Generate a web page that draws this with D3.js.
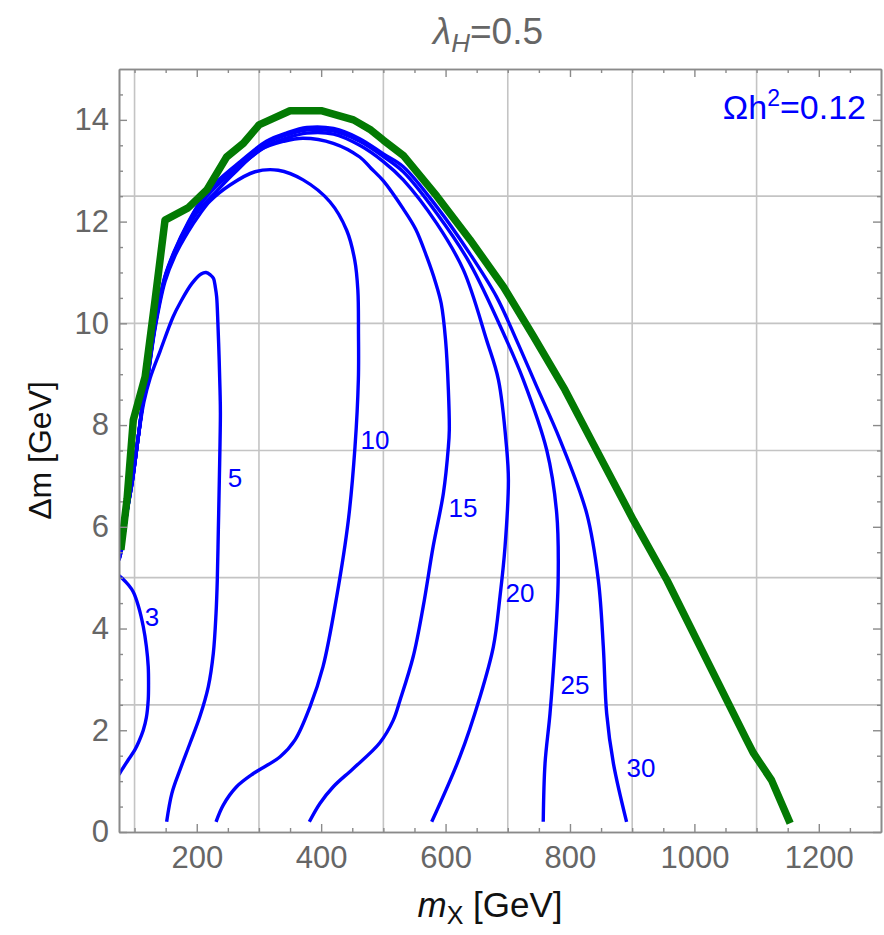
<!DOCTYPE html>
<html>
<head>
<meta charset="utf-8">
<script src="https://cdn.jsdelivr.net/npm/d3@7/dist/d3.min.js"></script>
<style>
html,body{margin:0;padding:0;background:#fff;}
svg{display:block;}
text{font-family:"Liberation Sans",Arial,sans-serif;}
</style>
</head>
<body>
<div id="chart"></div>
<script>
// ---------------- data ----------------
const xDomain = [75, 1300];
const yDomain = [0, 15];
const xTickLabels = [200, 400, 600, 800, 1000, 1200];
const yTickLabels = [0, 2, 4, 6, 8, 10, 12, 14];
const xMinorTicks = d3.range(100, 1300, 50);
const yMinorTicks = d3.range(0.5, 15, 0.5);
const xGridLines = [100, 300, 500, 700, 900, 1100];
const yGridLines = [2.5, 5, 7.5, 10, 12.5];

// relic density boundary (green)
const greenCurve = [[78,5.55],[88,6.55],[98,8.1],[117,8.95],[133,10.46],[149,12.03],[186,12.27],[216,12.62],[248,13.27],[275,13.54],[300,13.9],[323,14.03],[350,14.18],[400,14.18],[452,14.0],[480,13.8],[500,13.6],[532,13.3],[586,12.5],[639,11.65],[693,10.72],[741,9.75],[792,8.69],[837,7.64],[902,6.13],[956,4.95],[1020,3.38],[1084,1.81],[1095,1.55],[1124,1.02],[1154,0.17]];

// contour lines (blue)
const contour3 = [[75,5.04],[80,4.99],[90,4.86],[98,4.72],[106,4.45],[114,4.04],[119,3.65],[122,3.25],[122.5,2.9],[122,2.6],[119,2.25],[114,2.0],[107,1.78],[100.7,1.62],[90,1.42],[80,1.23],[75,1.13]];
const contour5 = [[75,5.4],[80,5.65],[88,6.35],[96,6.9],[107,7.85],[115,8.45],[125,8.92],[141,9.45],[162,10.13],[174,10.42],[192,10.78],[207,10.97],[215,11.0],[222,10.95],[227,10.88],[230,10.7],[232,10.52],[234,10.0],[236,9.3],[237.4,8.69],[238,8.23],[236.3,6.92],[234.7,5.94],[233,4.95],[231,4.3],[226.6,3.51],[218.6,2.86],[205,2.27],[189,1.74],[173,1.22],[160,0.76],[151.6,0.2]];
const contour10 = [[75,5.38],[80,5.62],[88,6.32],[96,6.88],[107,7.86],[114,8.48],[122,9.0],[133,9.9],[149,10.82],[165,11.33],[186,11.8],[205,12.15],[221,12.4],[253.5,12.72],[293.6,12.98],[331,13.01],[371,12.82],[414,12.39],[441,11.83],[454,11.24],[459,10.65],[460,9.8],[459.8,8.89],[454.4,7.57],[443.7,6.13],[425,4.63],[403,3.25],[382,2.46],[358,1.81],[334,1.48],[291,1.15],[264,0.89],[242.6,0.53],[231,0.2]];
const contour15 = [[75,5.37],[80,5.61],[88,6.31],[96,6.87],[107,7.86],[114,8.49],[122,9.02],[133,9.94],[149,10.88],[165,11.4],[186,11.9],[205,12.25],[232,12.6],[260,12.95],[302,13.41],[340,13.58],[371,13.64],[419.5,13.54],[462,13.27],[480,13.05],[500,12.8],[532,12.25],[552,11.85],[570,11.3],[584,10.8],[593,10.39],[600,9.67],[604.5,8.69],[606,7.9],[604.5,7.57],[596.5,6.66],[580,5.61],[564,4.43],[548,3.45],[526.8,2.59],[516,2.2],[494,1.75],[451.7,1.25],[419.5,0.89],[398,0.56],[381,0.2]];
const contour20 = [[75,5.36],[80,5.6],[88,6.3],[96,6.86],[107,7.86],[114,8.5],[122,9.03],[133,9.96],[149,10.9],[165,11.42],[186,11.94],[205,12.33],[232,12.7],[270,13.1],[312,13.48],[344,13.64],[377,13.74],[420,13.72],[462,13.5],[500,13.18],[532,12.82],[586,11.96],[628.6,11.05],[666,9.67],[685,8.89],[698,7.57],[701,6.92],[695.6,5.61],[687.5,4.63],[676.8,3.64],[655.4,2.66],[623,1.48],[577.7,0.2]];
const contour25 = [[75,5.35],[80,5.6],[88,6.3],[96,6.86],[107,7.86],[114,8.51],[122,9.04],[133,9.97],[149,10.91],[165,11.43],[186,11.96],[205,12.36],[232,12.75],[270,13.15],[312,13.54],[344,13.7],[377,13.8],[420,13.78],[462,13.58],[500,13.28],[532,12.98],[586,12.16],[639,11.18],[698,9.67],[725,8.89],[762.6,7.51],[778.7,6.26],[781,4.95],[775.7,3.64],[767.9,2.33],[759.9,1.35],[757,0.2]];
const contour30 = [[75,5.34],[80,5.6],[88,6.3],[96,6.86],[107,7.87],[114,8.52],[122,9.05],[133,9.99],[149,10.93],[165,11.45],[186,11.98],[205,12.38],[232,12.78],[270,13.18],[312,13.58],[344,13.74],[377,13.85],[420,13.83],[462,13.63],[500,13.33],[532,13.08],[586,12.29],[639,11.37],[682,10.52],[714,9.67],[745,8.8],[784,7.71],[827,6.26],[845.6,4.95],[853.6,3.64],[859,2.33],[869.8,1.35],[891,0.2]];

const contourLevels = ["3", "5", "10", "15", "20", "25", "30"];
const contourLabelX = [128, 261.5, 486.6, 628, 719.7, 808, 914];
const contourLabelY = [4.23, 6.96, 7.70, 6.37, 4.69, 2.89, 1.26];
const contours = [contour3, contour5, contour10, contour15, contour20, contour25, contour30];

// ---------------- drawing ----------------
const W = 884, H = 935;
const margin = {left: 119, right: 3, top: 69, bottom: 103};
const svg = d3.select("#chart").append("svg").attr("width", W).attr("height", H);

const x = d3.scaleLinear().domain(xDomain).range([margin.left, W - margin.right]);
const y = d3.scaleLinear().domain(yDomain).range([H - margin.bottom, margin.top]);

const gridColor = "#c4c4c4";
const frameColor = "#8a8a8a";
const labelGray = "#666666";

// grid
svg.append("g").selectAll("line").data(xGridLines).join("line")
  .attr("x1", d => x(d)).attr("x2", d => x(d))
  .attr("y1", y(15)).attr("y2", y(0))
  .attr("stroke", gridColor).attr("stroke-width", 1.6);
svg.append("g").selectAll("line").data(yGridLines).join("line")
  .attr("y1", d => y(d)).attr("y2", d => y(d))
  .attr("x1", x(xDomain[0])).attr("x2", x(xDomain[1]))
  .attr("stroke", gridColor).attr("stroke-width", 1.6);

// clip
svg.append("clipPath").attr("id", "clip").append("rect")
  .attr("x", x(xDomain[0])).attr("y", y(15))
  .attr("width", x(xDomain[1]) - x(xDomain[0])).attr("height", y(0) - y(15));

const plot = svg.append("g").attr("clip-path", "url(#clip)");

const lineSmooth = d3.line().x(d => x(d[0])).y(d => y(d[1])).curve(d3.curveCatmullRom.alpha(0.5));
const lineStraight = d3.line().x(d => x(d[0])).y(d => y(d[1]));

contours.forEach(c => {
  plot.append("path").attr("d", lineSmooth(c))
    .attr("fill", "none").attr("stroke", "#0000ff").attr("stroke-width", 3.4)
    .attr("stroke-linejoin", "round");
});

plot.append("path").attr("d", lineStraight(greenCurve))
  .attr("fill", "none").attr("stroke", "#037a03").attr("stroke-width", 7.5)
  .attr("stroke-linejoin", "round");

// contour labels
svg.append("g").selectAll("text").data(contourLevels).join("text")
  .attr("x", (d, i) => x(contourLabelX[i]))
  .attr("y", (d, i) => y(contourLabelY[i]))
  .attr("text-anchor", "middle").attr("dominant-baseline", "central")
  .attr("font-size", 26).attr("fill", "#0000ff")
  .text(d => d);

// frame axes with inward ticks
function styleAxis(g) {
  g.selectAll(".domain").attr("stroke", frameColor).attr("stroke-width", 1.6);
  g.selectAll(".tick line").attr("stroke", frameColor).attr("stroke-width", 1.4);
  g.selectAll(".tick text").attr("fill", labelGray).attr("font-size", 31)
    .attr("font-family", "'Liberation Sans', Arial, sans-serif");
}
const bottomY = y(0), topY = y(15), leftX = x(xDomain[0]), rightX = x(xDomain[1]);

// bottom
svg.append("g").attr("transform", `translate(0,${bottomY})`)
  .call(d3.axisBottom(x).tickValues(xMinorTicks.filter(v => v % 200 !== 0)).tickFormat("").tickSize(-4).tickSizeOuter(0))
  .call(styleAxis);
svg.append("g").attr("transform", `translate(0,${bottomY})`)
  .call(d3.axisBottom(x).tickValues(xTickLabels).tickFormat(d3.format("d")).tickSize(-8).tickSizeOuter(0).tickPadding(14))
  .call(styleAxis);
// top
svg.append("g").attr("transform", `translate(0,${topY})`)
  .call(d3.axisTop(x).tickValues(xMinorTicks.filter(v => v % 200 !== 0)).tickFormat("").tickSize(-4).tickSizeOuter(0))
  .call(styleAxis);
svg.append("g").attr("transform", `translate(0,${topY})`)
  .call(d3.axisTop(x).tickValues(xTickLabels).tickFormat("").tickSize(-8).tickSizeOuter(0))
  .call(styleAxis);
// left
svg.append("g").attr("transform", `translate(${leftX},0)`)
  .call(d3.axisLeft(y).tickValues(yMinorTicks.filter(v => v % 2 !== 0)).tickFormat("").tickSize(-4).tickSizeOuter(0))
  .call(styleAxis);
svg.append("g").attr("transform", `translate(${leftX},0)`)
  .call(d3.axisLeft(y).tickValues(yTickLabels).tickFormat(d3.format("d")).tickSize(-8).tickSizeOuter(0).tickPadding(10))
  .call(styleAxis);
// right
svg.append("g").attr("transform", `translate(${rightX},0)`)
  .call(d3.axisRight(y).tickValues(yMinorTicks.filter(v => v % 2 !== 0)).tickFormat("").tickSize(-4).tickSizeOuter(0))
  .call(styleAxis);
svg.append("g").attr("transform", `translate(${rightX},0)`)
  .call(d3.axisRight(y).tickValues(yTickLabels).tickFormat("").tickSize(-8).tickSizeOuter(0))
  .call(styleAxis);

// title
const title = svg.append("text").attr("x", 488).attr("y", 44)
  .attr("text-anchor", "middle").attr("font-size", 37).attr("fill", labelGray);
title.append("tspan").attr("font-style", "italic").text("λ");
title.append("tspan").attr("font-style", "italic").attr("font-size", 26).attr("dy", 8).text("H");
title.append("tspan").attr("dy", -8).text("=0.5");

// x label
const xl = svg.append("text").attr("x", 490).attr("y", 917)
  .attr("text-anchor", "middle").attr("font-size", 35).attr("fill", "#111");
xl.append("tspan").attr("font-style", "italic").text("m");
xl.append("tspan").attr("font-size", 25).attr("dy", 7).text("X");
xl.append("tspan").attr("dy", -7).text(" [GeV]");

// y label
svg.append("text").attr("transform", `translate(51,${y(7.5)}) rotate(-90)`)
  .attr("text-anchor", "middle").attr("font-size", 32).attr("fill", "#111")
  .text("Δm [GeV]");

// annotation
const ann = svg.append("text").attr("x", 866).attr("y", 119)
  .attr("text-anchor", "end").attr("font-size", 34).attr("fill", "#0000ff");
ann.append("tspan").text("Ωh");
ann.append("tspan").attr("font-size", 23).attr("dy", -13).text("2");
ann.append("tspan").attr("dy", 13).text("=0.12");
</script>
</body>
</html>
